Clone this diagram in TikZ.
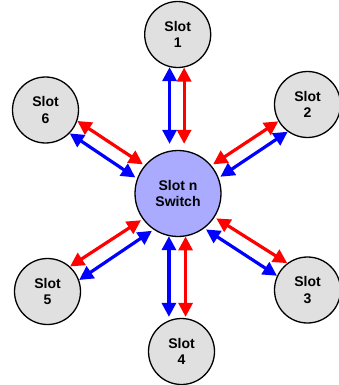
\documentclass[tikz,border=0pt]{standalone}
\usepackage{fontspec}
\setmainfont{Liberation Sans}
\usetikzlibrary{arrows.meta}
\definecolor{slotgray}{RGB}{224,224,224}
\definecolor{hubblue}{RGB}{170,170,255}
\begin{document}
\begin{tikzpicture}[x=1pt,y=-1pt,
  slot/.style={circle,draw=black,line width=1.3pt,fill=slotgray,minimum size=66pt,inner sep=0pt,align=center,font=\bfseries\fontsize{14pt}{16.5pt}\selectfont},
  hub/.style={slot,fill=hubblue,minimum size=86pt},
  link/.style={line width=3.2pt,{Triangle[width=14pt,length=14pt]}-{Triangle[width=14pt,length=14pt]}},
  rl/.style={link,draw=red},
  bl/.style={link,draw=blue}]
\useasboundingbox (0,0) rectangle (339,385);
\node[hub] (C) at (178,193.5) {Slot n\\Switch};
\node[slot] (S1) at (177.7,34.5) {Slot\\1};
\node[slot] (S2) at (307.5,104.5) {Slot\\2};
\node[slot] (S3) at (307.5,290) {Slot\\3};
\node[slot] (S4) at (181.5,351.5) {Slot\\4};
\node[slot] (S5) at (47.5,291.5) {Slot\\5};
\node[slot] (S6) at (45.5,110) {Slot\\6};
% slot 1
\draw[bl,shorten >=6pt] (S1.256.4) -- (S1.256.4 |- C.north);
\draw[rl,shorten >=6pt] (S1.281.8) -- (S1.281.8 |- C.north);
% slot 4
\draw[bl,shorten >=1pt] (C.258.5) -- (C.258.5 |- S4.north);
\draw[rl,shorten >=1pt] (C.280.6) -- (C.280.6 |- S4.north);
% slot 2
\draw[rl,shorten >=2pt] (S2.210.5) -- (C.40.5);
\draw[bl,shorten >=2pt] (S2.234.9) -- (C.21);
% slot 3
\draw[rl,shorten <=2pt] (C.-33) -- (S3.127.8);
\draw[bl,shorten <=2pt] (C.-53.2) -- (S3.155.6);
% slot 5
\draw[rl,shorten >=2pt] (S5.48.8) -- (C.216.1);
\draw[bl,shorten >=2pt] (S5.20.2) -- (C.236.1);
% slot 6
\draw[rl,shorten >=2pt] (S6.-19.6) -- (C.140.2);
\draw[bl,shorten >=2pt] (S6.-44.4) -- (C.160.8);
\end{tikzpicture}
\end{document}
